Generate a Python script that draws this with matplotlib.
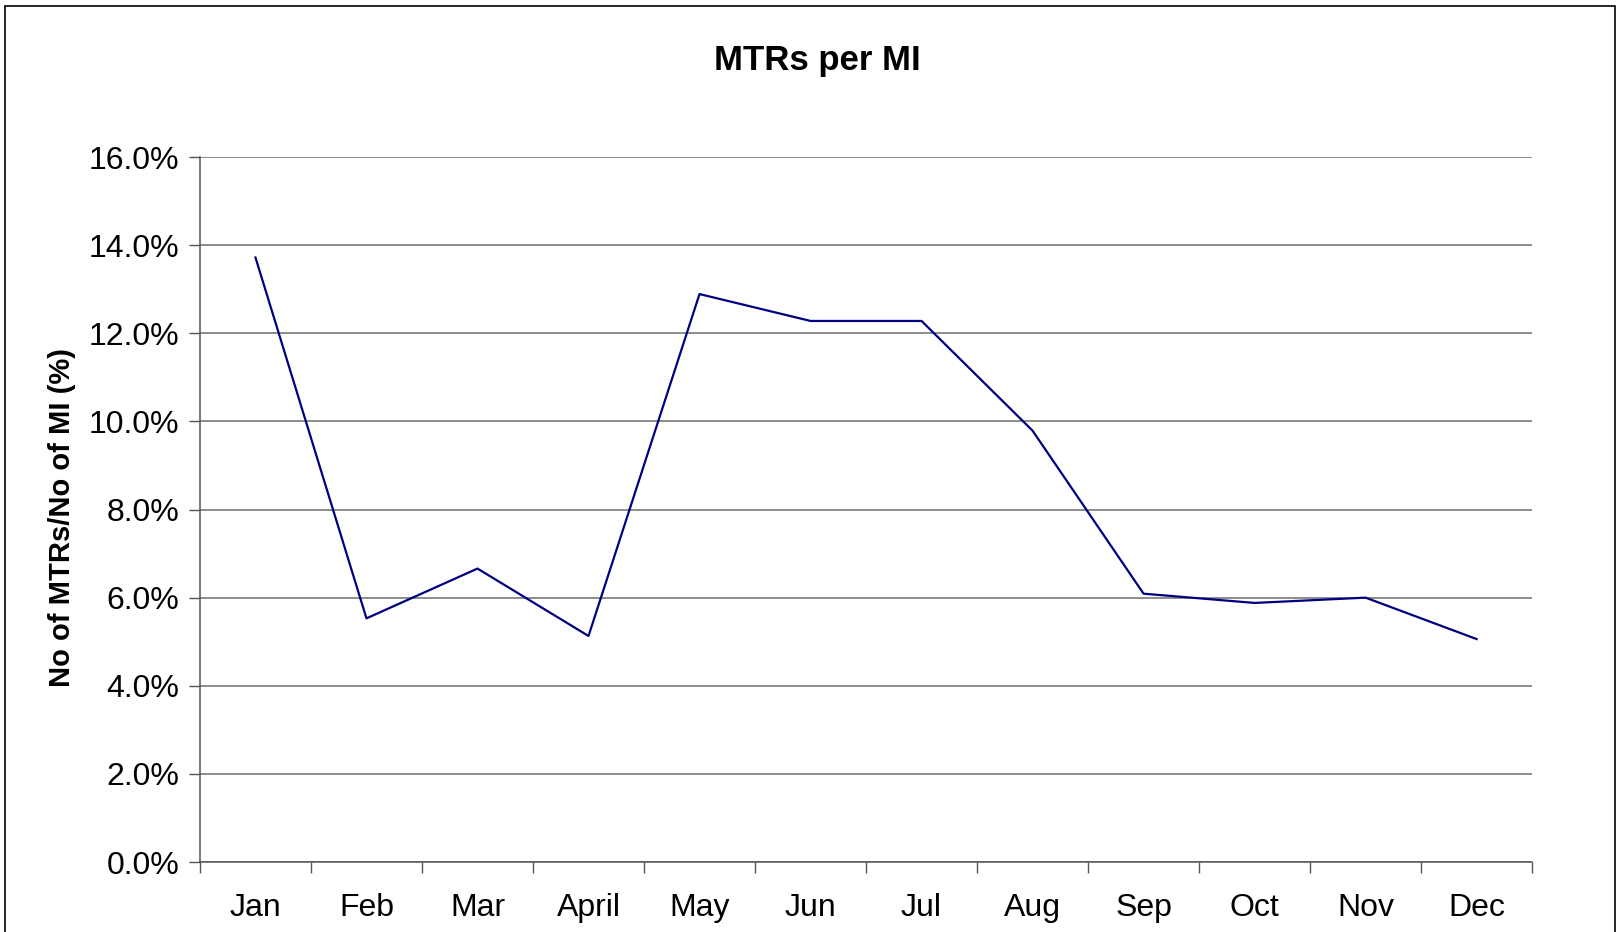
import matplotlib
matplotlib.use("Agg")
import matplotlib.pyplot as plt
from matplotlib.patches import Rectangle
from matplotlib.ticker import FixedLocator, PercentFormatter

months = ["Jan", "Feb", "Mar", "April", "May", "Jun", "Jul", "Aug", "Sep", "Oct", "Nov", "Dec"]
mtr_pct = [13.72, 5.53, 6.66, 5.13, 12.89, 12.28, 12.28, 9.79, 6.09, 5.88, 6.0, 5.06]

plt.rcParams["font.family"] = ["Liberation Sans", "DejaVu Sans"]

fig = plt.figure(figsize=(16.23, 9.32), dpi=100)
ax = fig.add_axes([0.1232, 0.0751, 0.8208, 0.7564])

# outer chart frame
fig.patches.append(Rectangle((5 / 1623, -0.1), 1610 / 1623, 1.1 - 6 / 932,
                             transform=fig.transFigure, fill=False,
                             edgecolor="black", linewidth=1.2))

x = list(range(len(months)))
ax.plot(x, mtr_pct, color="#000080", linewidth=1.6)

ax.set_xlim(-0.5, 11.5)
ax.set_ylim(0, 16)
ax.set_yticks([0, 2, 4, 6, 8, 10, 12, 14, 16])
ax.yaxis.set_major_formatter(PercentFormatter(decimals=1))
ax.grid(axis="y", color="#6e6e6e", linewidth=1.1)
ax.set_axisbelow(True)

ax.xaxis.set_major_locator(FixedLocator([i - 0.5 for i in range(13)]))
ax.xaxis.set_major_formatter(plt.NullFormatter())
ax.xaxis.set_minor_locator(FixedLocator(x))
ax.set_xticklabels(months, minor=True)
ax.tick_params(axis="x", which="major", length=8, width=1, color="#555555")
ax.tick_params(axis="x", which="minor", length=0, pad=22, labelsize=23)
ax.tick_params(axis="y", length=8, width=1, color="#555555", pad=7, labelsize=23)

for s in ["top", "right"]:
    ax.spines[s].set_visible(False)
for s in ["left", "bottom"]:
    ax.spines[s].set_color("#555555")
    ax.spines[s].set_linewidth(1.1)

ax.set_ylabel("No of MTRs/No of MI (%)", fontsize=21, fontweight="bold", labelpad=9)
ax.yaxis.label.set_y(0.488)
fig.text(0.5035, 0.935, "MTRs per MI", ha="center", va="center", fontsize=25, fontweight="bold")

fig.savefig("out.png", dpi=100)
